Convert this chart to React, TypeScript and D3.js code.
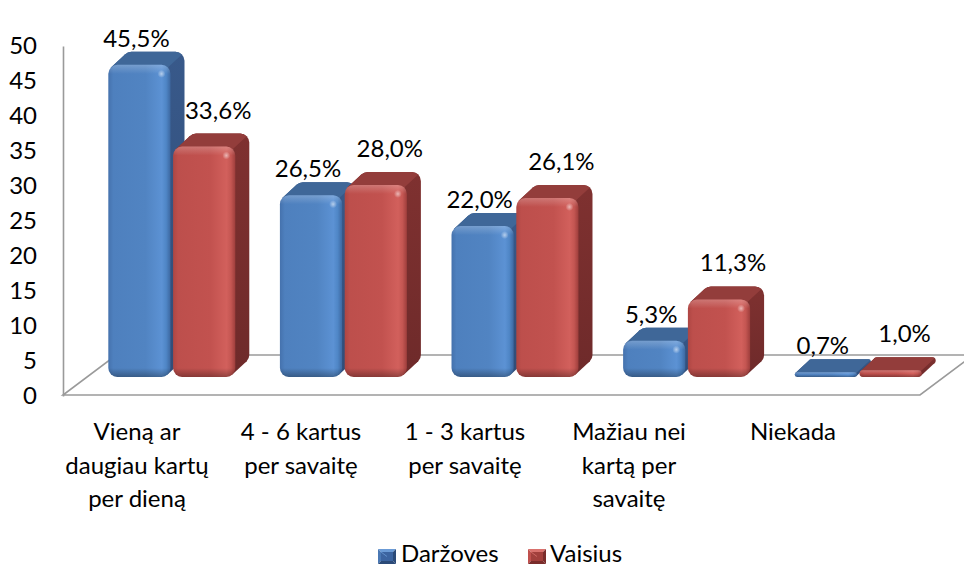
import React, { useEffect, useRef } from 'react';
import * as d3 from 'd3';

// chart data
const categories = [
  'Vieną ar\ndaugiau kartų\nper dieną',
  '4 - 6 kartus\nper savaitę',
  '1 - 3 kartus\nper savaitę',
  'Mažiau nei\nkartą per\nsavaitę',
  'Niekada',
];
const seriesNames = ['Daržoves', 'Vaisius'];
const darzoves = [45.5, 26.5, 22.0, 5.3, 0.7];
const vaisius = [33.6, 28.0, 26.1, 11.3, 1.0];
const yTicks = [0, 5, 10, 15, 20, 25, 30, 35, 40, 45, 50];

const W = 964;
const H = 568;
const FONT = "Lato, 'Open Sans', sans-serif";
const FS = 24;

// 3d look
const DX = 14;
const DY = 13;
const FLOOR_FRONT = 395;
const FLOOR_BACK = 355;
const FLOOR_LEFT = 63;
const FLOOR_RIGHT = 920;

const palette = {
  Daržoves: {
    side: '#38598a', top: '#3f6798',
    front: ['#4572ad', '#4e80be', '#5184c2', '#5c92d4', '#4f86c6', '#3d68a0'],
    legend: ['#6b9bd6', '#3c64a0', '#2b4a78', '#4a78b4'],
  },
  Vaisius: {
    side: '#7f3130', top: '#933d3b',
    front: ['#ae4643', '#bd4f4c', '#c2524f', '#d2605c', '#c45652', '#9e3e3c'],
    legend: ['#d9716d', '#a23f3c', '#7a2c2b', '#c0504d'],
  },
};
const frontStops = [0, 0.08, 0.6, 0.86, 0.93, 1];

const yAxis = d3.scaleLinear().domain([0, 50]).range([396, 46]);
const yBar = d3.scaleLinear().domain([0, 50]).range([377, 34]);
const xBand = d3.scaleBand<string>().domain(categories).range([86, 944]).paddingInner(0.26).paddingOuter(0.13);
const xSeries = d3.scaleBand<string>().domain(seriesNames).range([0, xBand.bandwidth()]).paddingInner(0.04);
const xLabel = d3.scaleBand<string>().domain(categories).range([55, 875]);

const fmt = (v: number) => d3.format('.1f')(v).replace('.', ',') + '%';

function Bar({ id, x0, w, v, s }: { id: string; x0: number; w: number; v: number; s: string }) {
  const c = palette[s as keyof typeof palette];
  const yBase = yBar(0);
  const yTop = yBar(v);
  const h = yBase - yTop;
  const r = Math.max(1, Math.min(9, h / 2, w / 2));
  const k = r * (1 - Math.SQRT1_2);
  const x1 = x0 + w;
  const tlf = [x0 + k, yTop + k];
  const brf = [x1 - k, yBase - k];
  const hull = [tlf, [tlf[0] + DX, tlf[1] - DY], [brf[0] + DX, brf[1] - DY], brf];
  const topFace =
    `M${tlf[0]},${tlf[1]} L${tlf[0] + DX},${tlf[1] - DY} ` +
    `A${r},${r} 0 0 1 ${x0 + r + DX},${yTop - DY} L${x1 - r + DX},${yTop - DY} ` +
    `A${r},${r} 0 0 1 ${x1 - k + DX},${yTop + k - DY} L${x1 - k},${yTop + k} ` +
    `L${x1 - r},${yTop + r} L${x0 + r},${yTop + r} Z`;
  const ft = r / h;
  return (
    <g>
      <defs>
        <linearGradient id={`v-${id}`} gradientUnits="userSpaceOnUse" x1={0} x2={0} y1={yTop} y2={yBase}>
          <stop offset={0} stopColor="#fff" stopOpacity={0.22} />
          <stop offset={Math.min(0.5, ft)} stopColor="#fff" stopOpacity={0} />
          <stop offset={Math.max(0.5, 1 - ft)} stopColor="#000" stopOpacity={0} />
          <stop offset={1} stopColor="#000" stopOpacity={0.3} />
        </linearGradient>
        <linearGradient id={`s-${id}`} gradientUnits="userSpaceOnUse" x1={0} x2={0} y1={yTop - DY} y2={yBase}>
          <stop offset={0} stopColor={c.side} stopOpacity={1} />
          <stop offset={1} stopColor={d3.color(c.side)!.darker(0.4).formatHex()} />
        </linearGradient>
      </defs>
      <rect x={x0 + DX} y={yTop - DY} width={w} height={h} rx={r} fill={`url(#s-${id})`} />
      <polygon points={hull.map((p) => p.join(',')).join(' ')} fill={`url(#s-${id})`} />
      <path d={topFace} fill={c.top} />
      <rect x={x0} y={yTop} width={w} height={h} rx={r} fill={`url(#f-${s})`} />
      <rect x={x0} y={yTop} width={w} height={h} rx={r} fill={`url(#v-${id})`} />
      {h > 14 && <circle cx={x1 - 9} cy={yTop + 9} r={4} fill="url(#spot)" />}
    </g>
  );
}

function LegendMarker({ x, y, s }: { x: number; y: number; s: string }) {
  const c = palette[s as keyof typeof palette].legend;
  const w = 18, h = 15, cx = x + w / 2, cy = y + h / 2, m = 3;
  return (
    <g>
      <polygon points={`${x},${y} ${x + w},${y} ${x + w - m},${y + m} ${x + m},${y + m}`} fill={c[0]} />
      <polygon points={`${x},${y} ${x + m},${y + m} ${x + m},${y + h - m} ${x},${y + h}`} fill={c[3]} />
      <polygon points={`${x + w},${y} ${x + w},${y + h} ${x + w - m},${y + h - m} ${x + w - m},${y + m}`} fill={c[2]} />
      <polygon points={`${x},${y + h} ${x + m},${y + h - m} ${x + w - m},${y + h - m} ${x + w},${y + h}`} fill={c[2]} />
      <rect x={x + m} y={y + m} width={w - 2 * m} height={h - 2 * m} fill={c[1]} />
      <line x1={x + m} y1={y + m} x2={cx} y2={cy} stroke={c[0]} strokeWidth={0.8} />
    </g>
  );
}

export default function App() {
  const axisRef = useRef<SVGGElement>(null);

  useEffect(() => {
    const g = d3.select(axisRef.current!);
    g.selectAll('*').remove();
    g.attr('transform', `translate(${FLOOR_LEFT},0)`)
      .call(d3.axisLeft(yAxis).tickValues(yTicks).tickSize(0).tickSizeOuter(0).tickPadding(26));
    g.select('.domain').attr('stroke', '#9a9a9a').attr('stroke-width', 1.6);
    g.selectAll('text').attr('font-family', FONT).attr('font-size', FS).attr('fill', '#000');
  }, []);

  const series = [darzoves, vaisius];
  const floor = [
    [FLOOR_LEFT, FLOOR_FRONT],
    [FLOOR_RIGHT, FLOOR_FRONT],
    [FLOOR_RIGHT + (FLOOR_FRONT - FLOOR_BACK) * 1.33, FLOOR_BACK],
    [FLOOR_LEFT + (FLOOR_FRONT - FLOOR_BACK) * 1.33, FLOOR_BACK],
  ];

  const legendItems = [
    { s: seriesNames[0], x: 378, tx: 401 },
    { s: seriesNames[1], x: 528, tx: 550 },
  ];

  return (
    <svg width={W} height={H} style={{ position: 'absolute', left: 0, top: 0, background: '#fff' }} fontFamily={FONT}>
      <defs>
        {seriesNames.map((s) => (
          <linearGradient key={s} id={`f-${s}`} x1={0} x2={1} y1={0} y2={0}>
            {palette[s as keyof typeof palette].front.map((col, i) => (
              <stop key={i} offset={frontStops[i]} stopColor={col} />
            ))}
          </linearGradient>
        ))}
        <radialGradient id="spot">
          <stop offset={0} stopColor="#fff" stopOpacity={0.55} />
          <stop offset={1} stopColor="#fff" stopOpacity={0} />
        </radialGradient>
      </defs>
      <rect width={W} height={H} fill="#fff" />

      <polygon points={floor.map((p) => p.join(',')).join(' ')} fill="none" stroke="#9a9a9a" strokeWidth={1.6} />
      <g ref={axisRef} />

      {categories.map((cat, i) => (
        <g key={cat}>
          {seriesNames.map((s, j) => (
            <Bar key={s} id={`${i}-${j}`} x0={xBand(cat)! + xSeries(s)!} w={xSeries.bandwidth()} v={series[j][i]} s={s} />
          ))}
        </g>
      ))}

      {categories.map((cat, i) =>
        seriesNames.map((s, j) => {
          const v = series[j][i];
          const cx = xBand(cat)! + xSeries(s)! + (xSeries.bandwidth() + DX) / 2 + (j === 0 ? -10 : 7);
          const y = yBar(v) - DY - (j === 0 ? 5 : 15);
          return (
            <text key={`${cat}-${s}`} x={cx} y={y} textAnchor="middle" fontSize={FS} fill="#000">
              {fmt(v)}
            </text>
          );
        })
      )}

      {categories.map((cat) => (
        <text key={cat} x={xLabel(cat)! + xLabel.bandwidth() / 2} y={440} textAnchor="middle" fontSize={FS} fill="#000">
          {cat.split('\n').map((line, k) => (
            <tspan key={k} x={xLabel(cat)! + xLabel.bandwidth() / 2} dy={k === 0 ? 0 : 33.5}>
              {line}
            </tspan>
          ))}
        </text>
      ))}

      {legendItems.map((it) => (
        <g key={it.s}>
          <LegendMarker x={it.x} y={549} s={it.s} />
          <text x={it.tx} y={562} fontSize={FS} fill="#000">
            {it.s}
          </text>
        </g>
      ))}
    </svg>
  );
}
